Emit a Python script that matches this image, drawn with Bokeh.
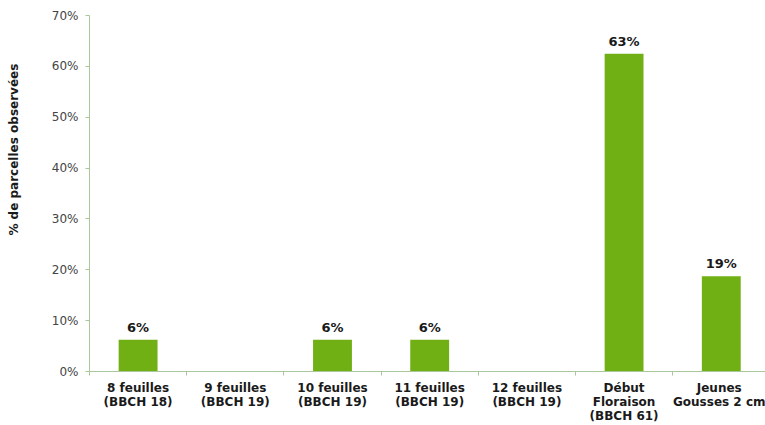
from bokeh.plotting import figure
from bokeh.models import Range1d, FixedTicker, ColumnDataSource
from bokeh.core.properties import value
from bokeh.embed import file_html
from bokeh.resources import INLINE

categories = ["8 feuilles\n(BBCH 18)", "9 feuilles\n(BBCH 19)", "10 feuilles\n(BBCH 19)",
              "11 feuilles\n(BBCH 19)", "12 feuilles\n(BBCH 19)",
              "Début\nFloraison\n(BBCH 61)", "Jeunes\nGousses 2 cm"]
values = [6.25, 0, 6.25, 6.25, 0, 62.5, 18.75]
y_ticks = [0, 10, 20, 30, 40, 50, 60, 70]

FONT = "DejaVu Sans"
GREEN = "#71B014"
AXIS = "#a9c79a"

xs = [i + 0.5 for i in range(len(categories))]
lx = [x for x, v in zip(xs, values) if v > 0]
lv = [v for v in values if v > 0]
lt = [f"{int(v + 0.5)}%" for v in lv]

p = figure(width=765, height=425, output_backend="svg", toolbar_location=None,
           x_range=Range1d(0, 6.955), y_range=Range1d(0, 70),
           min_border_left=89, min_border_right=0, min_border_top=15, min_border_bottom=54)
p.outline_line_color = None
p.xgrid.visible = False
p.ygrid.visible = False
p.background_fill_color = "white"
p.border_fill_color = "white"

p.vbar(x=xs, top=values, width=0.40, bottom=0, color=GREEN, line_color=None)
src = ColumnDataSource(dict(x=lx, y=lv, t=lt))
p.text(x="x", y="y", text="t", source=src, text_font=value(FONT), text_font_style="bold",
       text_font_size="13px", text_color="#1a1a1a", text_align="center",
       text_baseline="bottom", y_offset=-5)

xa = p.xaxis[0]
xa.ticker = FixedTicker(ticks=xs, minor_ticks=list(range(len(categories) + 1)))
xa.major_label_overrides = {x: c for x, c in zip(xs, categories)}
xa.major_tick_in = 0
xa.major_tick_out = 0
xa.minor_tick_in = 0
xa.minor_tick_out = 4
xa.minor_tick_line_color = AXIS
xa.axis_line_color = AXIS
xa.major_label_text_font = FONT
xa.major_label_text_font_style = "bold"
xa.major_label_text_font_size = "12px"
xa.major_label_text_color = "#1a1a1a"
xa.major_label_text_line_height = 1.0
xa.major_label_standoff = 5

ya = p.yaxis[0]
ya.ticker = FixedTicker(ticks=y_ticks, minor_ticks=[])
ya.major_label_overrides = {t: f"{t}%" for t in y_ticks}
ya.major_tick_in = 0
ya.major_tick_out = 4
ya.major_tick_line_color = AXIS
ya.axis_line_color = AXIS
ya.major_label_text_font = FONT
ya.major_label_text_font_size = "12px"
ya.major_label_text_color = "#444444"
ya.major_label_standoff = 7
ya.axis_label = "\u00a0" * 21 + "% de parcelles observées"
ya.axis_label_text_font = FONT
ya.axis_label_text_font_style = "bold"
ya.axis_label_text_font_size = "12px"
ya.axis_label_text_color = "#1a1a1a"
ya.axis_label_standoff = 28

open("out.html", "w").write(file_html(p, INLINE))
